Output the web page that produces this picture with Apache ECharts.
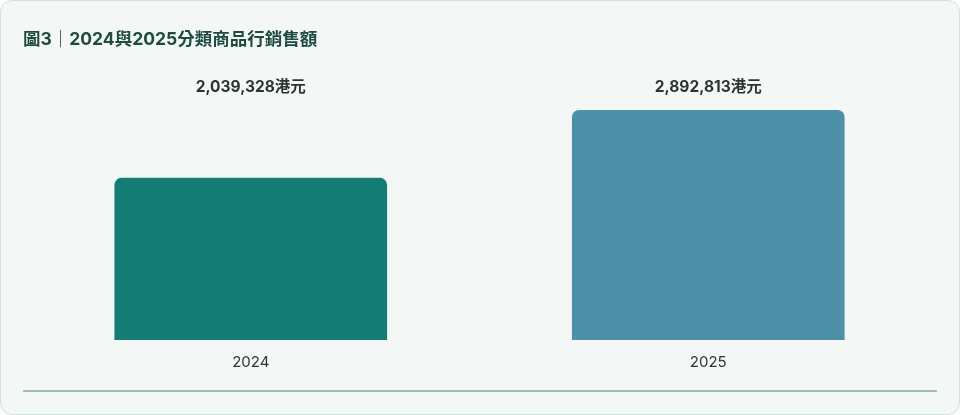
<!DOCTYPE html>
<html>
<head>
<meta charset="utf-8">
<script src="https://cdn.jsdelivr.net/npm/echarts@6/dist/echarts.min.js"></script>
<style>
html,body{margin:0;padding:0;background:#ffffff;}
#card{position:absolute;left:0;top:0;width:960px;height:415px;box-sizing:border-box;border:1px solid #cfe4dd;border-radius:12px;background:#f3f8f6;overflow:hidden;}
#chart{position:absolute;left:-1px;top:-1px;width:960px;height:415px;}
</style>
</head>
<body>
<div id="card"><div id="chart"></div></div>
<script>
const titleText = '圖3｜2024與2025分類商品行銷售額';
const categories = ['2024', '2025'];
const salesValues = [2039328, 2892813];
const barColors = ['#137d73', '#4e90a8'];
const unitSuffix = '港元';
const Y_MAX = 3000000;

const fmt = v => v.toLocaleString('en-US') + unitSuffix;
const font = 'Inter, "Noto Sans CJK TC", sans-serif';

const chart = echarts.init(document.getElementById('chart'), null, {renderer: 'canvas'});
chart.setOption({
  animation: false,
  backgroundColor: 'transparent',
  title: {
    text: titleText,
    left: 23, top: 31, padding: 0,
    textStyle: {fontFamily: font, fontSize: 17.5, fontWeight: 'bold', color: '#1e4a40'}
  },
  grid: {left: 22, right: 23, top: 101.5, bottom: 75, containLabel: false},
  xAxis: {
    type: 'category',
    data: categories,
    axisLine: {show: false},
    axisTick: {show: false},
    axisLabel: {margin: 15, fontFamily: font, fontSize: 15, color: '#2b3532'}
  },
  yAxis: {
    type: 'value', min: 0, max: Y_MAX,
    show: false, splitLine: {show: false}
  },
  series: [
    {
      type: 'bar',
      data: salesValues.map((v, i) => ({value: v, itemStyle: {color: barColors[i]}})),
      barWidth: '59.6%',
      itemStyle: {borderRadius: [7, 7, 0, 0]},
      z: 2
    },
    {
      type: 'bar',
      data: salesValues.map(v => ({value: Y_MAX})),
      barWidth: '59.6%',
      barGap: '-100%',
      itemStyle: {color: 'rgba(0,0,0,0)'},
      silent: true,
      z: 1,
      label: {
        show: true, position: 'top', distance: 6,
        formatter: p => fmt(salesValues[p.dataIndex]),
        fontFamily: font, fontSize: 15.5, fontWeight: 'bold', color: '#2b3532'
      }
    }
  ],
  graphic: [{
    type: 'line',
    shape: {x1: 23, y1: 391, x2: 937, y2: 391},
    style: {stroke: '#9cbfb5', lineWidth: 2}
  }]
});
</script>
</body>
</html>
